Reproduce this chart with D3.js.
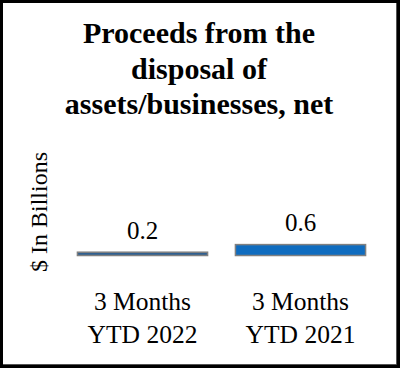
<!DOCTYPE html>
<html><head><meta charset="utf-8">
<script src="https://cdn.jsdelivr.net/npm/d3@7"></script>
<style>html,body{margin:0;padding:0;background:#fff;}svg{display:block;}</style>
</head><body>
<script>
const titleLines = ["Proceeds from the", "disposal of", "assets/businesses, net"];
const categories = [["3 Months", "YTD 2022"], ["3 Months", "YTD 2021"]];
const values = [0.2, 0.6];
const valueLabels = ["0.2", "0.6"];
const barColors = ["#2f5f8f", "#0f6cbf"];
const yLabel = "$ In Billions";

const W = 400, H = 368;
const svg = d3.select("body").append("svg").attr("width", W).attr("height", H);
const serif = "'Liberation Serif', 'Times New Roman', serif";

// frame
svg.append("rect").attr("x", 0).attr("y", 0).attr("width", W).attr("height", H).attr("fill", "#000");
svg.append("rect").attr("x", 3).attr("y", 3).attr("width", 393).attr("height", 361).attr("fill", "#fff");
svg.append("line").attr("x1", 396.5).attr("x2", 396.5).attr("y1", 3).attr("y2", 364.5).attr("stroke", "#555");
svg.append("line").attr("x1", 3).attr("x2", 396.5).attr("y1", 364.5).attr("y2", 364.5).attr("stroke", "#555");

// title
svg.append("text").attr("text-anchor", "middle").attr("font-family", serif)
  .attr("font-weight", "bold").attr("font-size", 30).attr("fill", "#000")
  .selectAll("tspan").data(titleLines).join("tspan")
  .attr("x", 199).attr("y", (d, i) => 43 + i * 35.5).text(d => d);

const x = d3.scaleBand().domain(d3.range(values.length)).range([63.5, 379.5])
  .paddingInner(0.17).paddingOuter(0.085);
const baseline = 256;
const y = d3.scaleLinear().domain([0, 1]).range([baseline, baseline - 19]);

// y label
svg.append("text").attr("transform", "translate(47,212) rotate(-90)")
  .attr("text-anchor", "middle").attr("font-family", serif).attr("font-size", 24)
  .attr("fill", "#000").text(yLabel);

// bars
svg.selectAll("rect.bar").data(values).join("rect").attr("class", "bar")
  .attr("x", (d, i) => x(i) + 0.5).attr("width", x.bandwidth() - 1)
  .attr("y", d => y(d)).attr("height", d => baseline - y(d) - 0.5)
  .attr("fill", (d, i) => barColors[i]).attr("stroke", "#808080").attr("stroke-width", 1.5);

// value labels
svg.selectAll("text.val").data(values).join("text").attr("class", "val")
  .attr("x", (d, i) => x(i) + x.bandwidth() / 2).attr("y", d => y(d) - 13.5)
  .attr("text-anchor", "middle").attr("font-family", serif).attr("font-size", 25)
  .attr("fill", "#000").text((d, i) => valueLabels[i]);

// category labels
const cat = svg.selectAll("text.cat").data(categories).join("text").attr("class", "cat")
  .attr("text-anchor", "middle").attr("font-family", serif).attr("font-size", 25.5).attr("fill", "#000");
cat.selectAll("tspan").data((d, i) => d.map(t => ({t, i}))).join("tspan")
  .attr("x", d => x(d.i) + x.bandwidth() / 2).attr("y", (d, j) => 310 + j * 33).text(d => d.t);
</script>
</body></html>
